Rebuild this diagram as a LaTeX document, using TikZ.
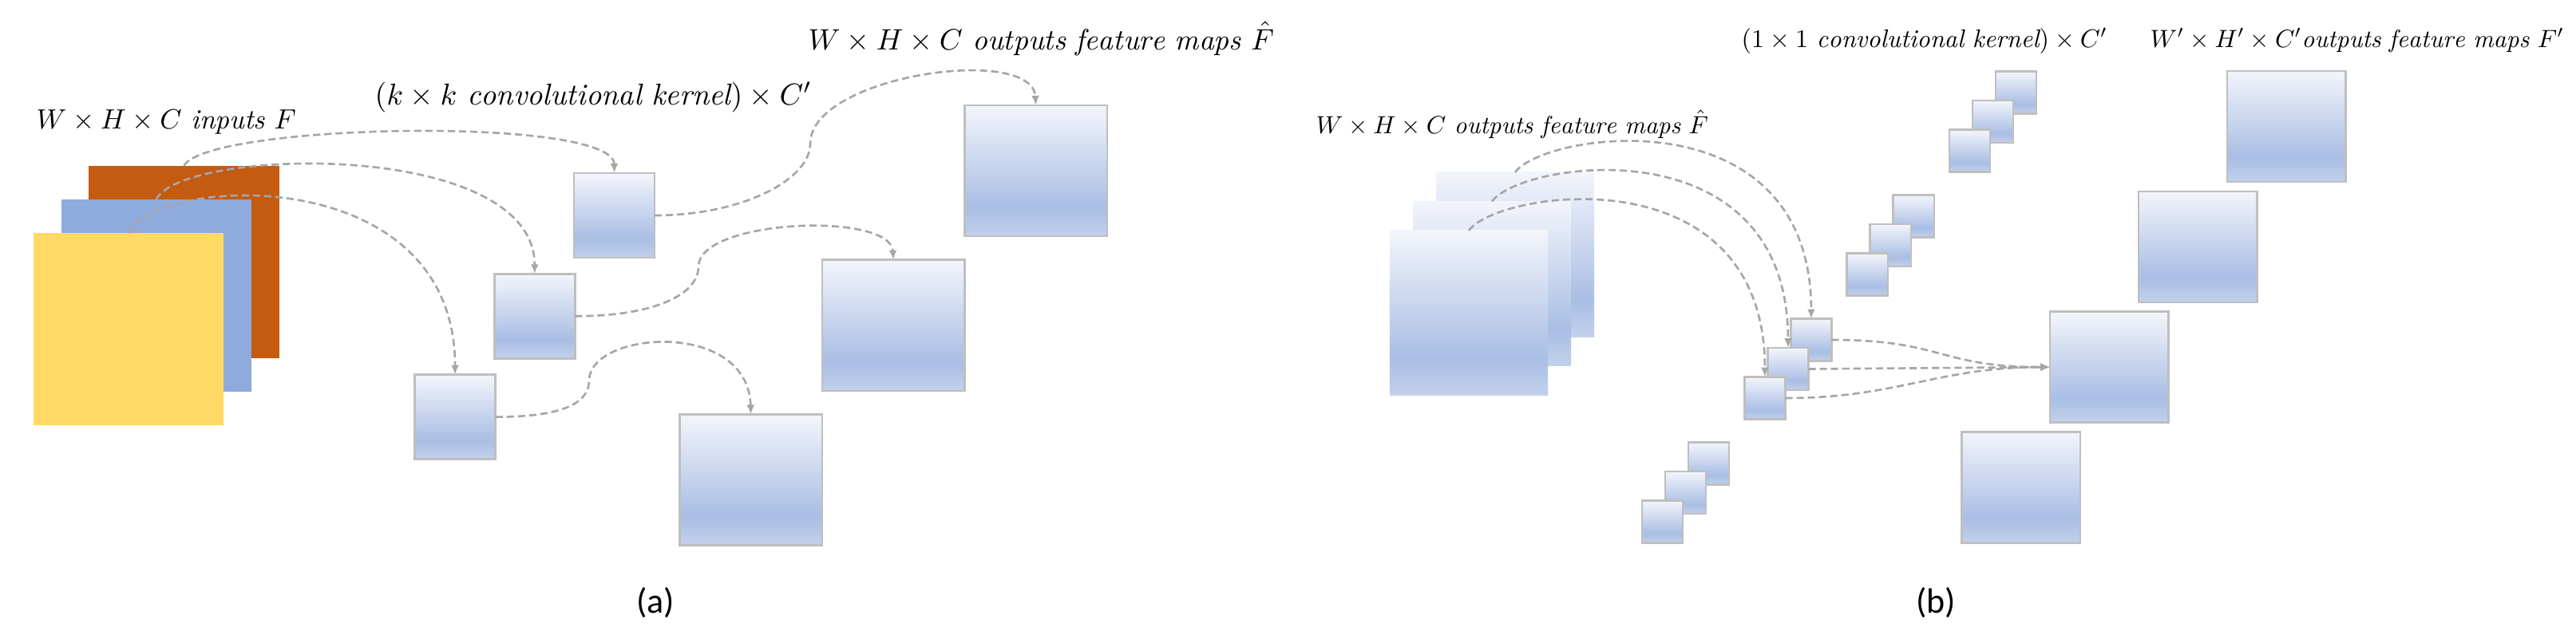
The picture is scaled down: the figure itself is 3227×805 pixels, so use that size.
\documentclass[tikz,border=0pt]{standalone}
\usepackage{graphicx}
\usepackage{fontspec}
\newfontfamily\capfont{Carlito}
\usetikzlibrary{arrows.meta}

\definecolor{mapTop}{HTML}{F3F5FB}
\definecolor{mapMid}{HTML}{A9BEE4}
\definecolor{mapBot}{HTML}{C3D1EC}
\definecolor{mapEdge}{HTML}{BFBFBF}
\definecolor{flowGray}{HTML}{A6A6A6}
\definecolor{chOrange}{HTML}{C55A11}
\definecolor{chBlue}{HTML}{8FAADC}
\definecolor{chYellow}{HTML}{FFD966}

\pgfdeclareverticalshading{mapfade}{100bp}{color(0bp)=(mapBot); color(25bp)=(mapBot); color(36bp)=(mapMid); color(75bp)=(mapTop); color(100bp)=(mapTop)}

% math label squeezed to the width it has in the figure
\newcommand{\fitlab}[2]{\resizebox{#1}{!}{#2}}

\tikzset{
    layer/.style={inner sep=0pt, outer sep=0pt, minimum width=2.38cm, minimum height=2.41cm},
    fadelayer/.style={inner sep=0pt, outer sep=0pt, shade, shading=mapfade, minimum width=1.98cm, minimum height=2.06cm},
    kbox/.style={draw=mapEdge, line width=0.7pt, inner sep=0pt, outer sep=0pt, shade, shading=mapfade},
    flow/.style={draw=flowGray, line width=0.75pt, dash pattern=on 2.6pt off 1.4pt, -{Latex[length=3.4pt,width=2.8pt]}},
    mlab/.style={anchor=base west, inner sep=0pt},
    caplab/.style={font=\capfont\fontsize{12.5}{14}\selectfont}
}

\begin{document}
\begin{tikzpicture}[x=0.01cm,y=-0.01cm]
    \useasboundingbox (0,0) rectangle (3227,805);

    % (a) standard convolution
    \foreach \i/\c in {3/chOrange,2/chBlue,1/chYellow} {
        \node [layer,fill=\c] (in\i) at ({161.3+34.6*(\i-1)},{412.8-42.3*(\i-1)}) {};
    }
    \foreach \i in {1,2,3} {
        \node [kbox,minimum width=1.01cm,minimum height=1.06cm] (k\i) at ({769.5-99.7*(\i-1)},{270+126.3*(\i-1)}) {};
    }
    \foreach \i in {1,2,3} {
        \node [kbox,minimum width=1.785cm,minimum height=1.64cm] (o\i) at ({1297.8-178.6*(\i-1)},{214+193.7*(\i-1)}) {};
    }
    \coordinate (w1) at (1015,180);
    \coordinate (w2) at (875,334);
    \coordinate (w3) at (738,477);

    \draw [flow] (in3.north) .. controls +(30,-53) and +(0,-72) .. (k1.north);
    \draw [flow] (in2.north) .. controls +(30,-65) and +(0,-170) .. (k2.north);
    \draw [flow] (in1.north) .. controls +(30,-72) and +(0,-270) .. (k3.north);
    \draw [flow] (k1.east) .. controls +(110,0) and +(0,45) .. (w1) .. controls +(0,-85) and +(-5,-77) .. (o1.north);
    \draw [flow] (k2.east) .. controls +(100,0) and +(0,35) .. (w2) .. controls +(0,-59) and +(-4,-61) .. (o2.north);
    \draw [flow] (k3.east) .. controls +(80,0) and +(0,30) .. (w3) .. controls +(0,-62) and +(-3,-120) .. (o3.north);

    \node [mlab] (labIn) at (45,161) {\fitlab{3.25cm}{$W\times H\times C\ \mathit{inputs}\ F$}};
    \node [mlab] (labKer) at (469,131) {\fitlab{5.47cm}{$(k\times k\ \mathit{convolutional}\ \mathit{kernel})\times C'$}};
    \node [mlab] (labOut) at (1012,62) {\fitlab{5.83cm}{$W\times H\times C\ \mathit{outputs}\ \mathit{feature}\ \mathit{maps}\ \hat{F}$}};
    \node [caplab] (capA) at (821,755) {(a)};

    % (b) pointwise convolution
    \foreach \i in {3,2,1} {
        \node [fadelayer] (s\i) at ({1840+29*(\i-1)},{392-36.5*(\i-1)}) {};
    }
    \foreach \g in {1,...,4} {
        \foreach \i in {3,2,1} {
            \node [kbox,minimum width=0.51cm,minimum height=0.53cm] (g\g\i) at ({2210.9+128.3*(3-\g)+29*(\i-1)},{499-155*(3-\g)-36.5*(\i-1)}) {};
        }
    }
    \foreach \i in {1,...,4} {
        \node [kbox,minimum width=1.485cm,minimum height=1.39cm] (p\i) at ({2864-110.8*(\i-1)},{158.5+150.8*(\i-1)}) {};
    }

    \foreach \i in {1,2,3} {
        \draw [flow] (s\i.north) .. controls +(37,-51) and +(0,-282) .. (g3\i.north);
    }
    \draw [flow] (g33.east) .. controls +(140,0) and +(-140,0) .. (p3.west);
    \draw [flow] (g32.east) -- (p3.west);
    \draw [flow] (g31.east) .. controls +(140,0) and +(-140,0) .. (p3.west);

    \node [mlab] (labOutB) at (1648,167) {\fitlab{4.91cm}{$W\times H\times C\ \mathit{outputs}\ \mathit{feature}\ \mathit{maps}\ \hat{F}$}};
    \node [mlab] (labKerB) at (2181,59) {\fitlab{4.58cm}{$(1\times 1\ \mathit{convolutional}\ \mathit{kernel})\times C'$}};
    \node [mlab] (labNew) at (2693,59) {\fitlab{5.18cm}{$W'\times H'\times C'\mathit{outputs}\ \mathit{feature}\ \mathit{maps}\ F'$}};
    \node [caplab] (capB) at (2425,755) {(b)};
\end{tikzpicture}
\end{document}
